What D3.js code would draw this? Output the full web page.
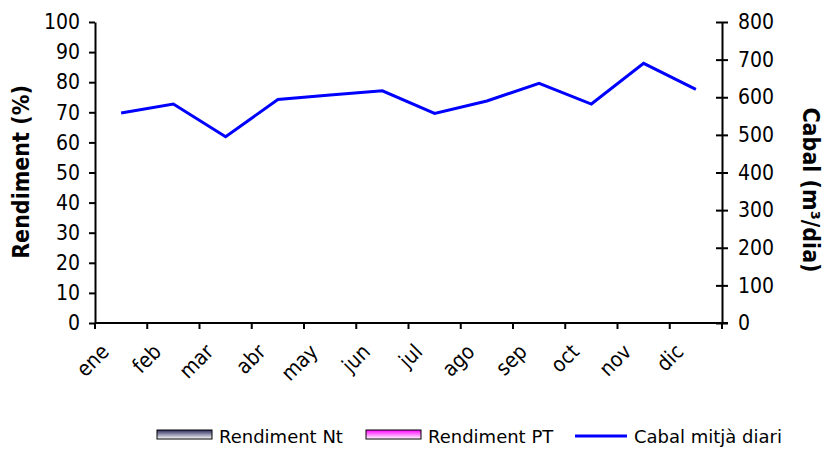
<!DOCTYPE html>
<html>
<head>
<meta charset="utf-8">
<script src="https://cdn.jsdelivr.net/npm/d3@7"></script>
<style>
  body { margin: 0; background: #fff; }
  svg text { font-family: "DejaVu Sans Condensed", "DejaVu Sans", Verdana, sans-serif; font-stretch: condensed; fill: #000; }
  svg text.legend-text { font-family: "DejaVu Sans", Verdana, sans-serif; font-stretch: normal; }
</style>
</head>
<body>
<div id="chart"></div>
<script>
/***** data *****/
var months = ["ene", "feb", "mar", "abr", "may", "jun", "jul", "ago", "sep", "oct", "nov", "dic"];
var cabal = [558, 582, 495, 594, 606, 617, 557, 590, 637, 582, 690, 621];
var leftTicks = [0, 10, 20, 30, 40, 50, 60, 70, 80, 90, 100];
var rightTicks = [0, 100, 200, 300, 400, 500, 600, 700, 800];
var legendNames = ["Rendiment Nt", "Rendiment PT", "Cabal mitjà diari"];

//chart size
var width = 830, height = 450;
var plot = {left: 95, right: 722, top: 22, bottom: 323};

var svg = d3.select("#chart").append("svg")
  .attr("width", width)
  .attr("height", height);

//gradients for legend swatches
var defs = svg.append("defs");
var gradNt = defs.append("linearGradient").attr("id", "gradNt")
  .attr("x1", 0).attr("y1", 0).attr("x2", 0).attr("y2", 1);
gradNt.append("stop").attr("offset", "0%").attr("stop-color", "#2a2a60");
gradNt.append("stop").attr("offset", "100%").attr("stop-color", "#ffffff");
var gradPT = defs.append("linearGradient").attr("id", "gradPT")
  .attr("x1", 0).attr("y1", 0).attr("x2", 0).attr("y2", 1);
gradPT.append("stop").attr("offset", "0%").attr("stop-color", "#ff00ff");
gradPT.append("stop").attr("offset", "100%").attr("stop-color", "#ffffff");

//scales
var x = d3.scaleBand()
  .domain(months)
  .range([plot.left, plot.right]);
var yLeft = d3.scaleLinear()
  .domain([0, 100])
  .range([plot.bottom, plot.top]);
var yRight = d3.scaleLinear()
  .domain([0, 800])
  .range([plot.bottom, plot.top]);

//left axis
var gLeft = svg.append("g")
  .attr("transform", "translate(" + plot.left + ",0)")
  .call(d3.axisLeft(yLeft).tickValues(leftTicks).tickSizeInner(6).tickSizeOuter(0).tickPadding(9));

//right axis
var gRight = svg.append("g")
  .attr("transform", "translate(" + plot.right + ",0)")
  .call(d3.axisRight(yRight).tickValues(rightTicks).tickSizeInner(6).tickSizeOuter(0).tickPadding(10));
gRight.selectAll(".tick line").attr("x1", -6);

//x axis: ticks on band edges
var gX = svg.append("g")
  .attr("transform", "translate(0," + plot.bottom + ")");
gX.append("line")
  .attr("x1", plot.left).attr("x2", plot.right + 6)
  .attr("stroke", "#000").attr("stroke-width", 2);
gX.selectAll(".edge")
  .data(months.concat(["end"]))
  .enter().append("line")
  .attr("class", "edge")
  .attr("x1", function(d) { return d === "end" ? plot.right : x(d); })
  .attr("x2", function(d) { return d === "end" ? plot.right : x(d); })
  .attr("y1", 0).attr("y2", 6)
  .attr("stroke", "#000").attr("stroke-width", 2);
gX.selectAll(".mlabel")
  .data(months)
  .enter().append("text")
  .attr("class", "mlabel")
  .attr("transform", function(d) {
    return "translate(" + (x(d) + x.bandwidth() / 2 - 11) + ",30) rotate(-45)";
  })
  .attr("text-anchor", "end")
  .style("font-size", "21px")
  .text(function(d) { return d; });

//style axes
svg.selectAll(".domain").attr("stroke", "#000").attr("stroke-width", 2);
svg.selectAll(".tick line").attr("stroke", "#000").attr("stroke-width", 2);
svg.selectAll(".tick text").style("font-size", "21px").attr("fill", "#000");

//axis titles
svg.append("text")
  .attr("transform", "translate(29,172) rotate(-90)")
  .attr("text-anchor", "middle")
  .style("font-size", "23px")
  .style("font-weight", "bold")
  .text("Rendiment (%)");
svg.append("text")
  .attr("transform", "translate(803,190) rotate(90)")
  .attr("text-anchor", "middle")
  .style("font-size", "23px")
  .style("font-weight", "bold")
  .text("Cabal (m³/dia)");

//line series
var line = d3.line()
  .x(function(d, i) { return x(months[i]) + x.bandwidth() / 2; })
  .y(function(d) { return yRight(d); });
svg.append("path")
  .datum(cabal)
  .attr("d", line)
  .attr("fill", "none")
  .attr("stroke", "#0000ff")
  .attr("stroke-width", 3);

//legend
var legendX = [157, 366, 575];
var legend = svg.append("g");
legendNames.forEach(function(name, i) {
  var g = legend.append("g").attr("transform", "translate(" + legendX[i] + ",430)");
  if (i < 2) {
    g.append("rect")
      .attr("x", 0).attr("y", 0).attr("width", 55).attr("height", 9)
      .attr("fill", i === 0 ? "url(#gradNt)" : "url(#gradPT)")
      .attr("stroke", "#000").attr("stroke-width", 1);
  } else {
    g.append("line")
      .attr("x1", 0).attr("x2", 52).attr("y1", 6).attr("y2", 6)
      .attr("stroke", "#0000ff").attr("stroke-width", 3);
  }
  g.append("text")
    .attr("class", "legend-text")
    .attr("x", i < 2 ? 62 : 59)
    .attr("y", 13)
    .style("font-size", "18px")
    .text(name);
});
</script>
</body>
</html>
